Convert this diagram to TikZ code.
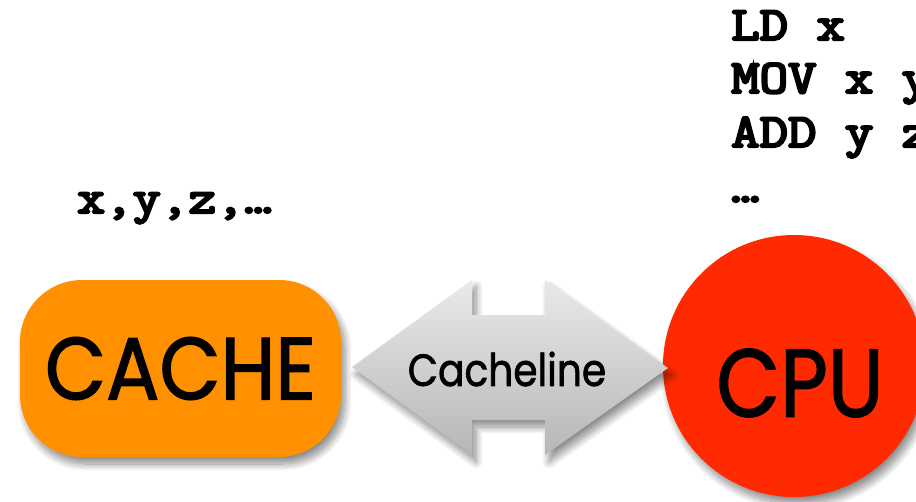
\documentclass[tikz,border=0pt]{standalone}
\usepackage{fontspec}
\newfontfamily\roundfont{Poppins}[FakeBold=1.6]
\newfontfamily\codefont{Latin Modern Mono}[FakeBold=4.5]
\usetikzlibrary{shadows.blur}
\definecolor{cacheorange}{RGB}{255,145,0}
\definecolor{cpured}{RGB}{255,42,0}
\newcommand{\codetext}[1]{\scalebox{1.15}[1]{#1}}
\tikzset{
  softshadow/.style={blur shadow={shadow xshift=4pt, shadow yshift=-7pt,
      shadow blur radius=7pt, shadow blur steps=12, shadow opacity=45}},
  codeline/.style={anchor=base west, inner sep=0pt,
      font=\codefont\fontsize{48}{53}\selectfont},
}
\begin{document}
\begin{tikzpicture}[x=1pt,y=-1pt]
  \useasboundingbox (0,0) rectangle (916,501);
  \clip (0,0) rectangle (916,501);

  % data held in the cache
  \node[codeline, font=\codefont\fontsize{47}{52}\selectfont] (vars) at (77,213) {\codetext{x,y,z,\textellipsis}};

  % instruction stream
  \node[codeline] (i1) at (731,40) {\codetext{LD x}};
  \node[codeline] (i2) at (731,93) {\codetext{MOV x y}};
  \node[codeline] (i3) at (731,147) {\codetext{ADD y z}};
  \node[codeline] (i4) at (731,202) {\codetext{\textellipsis}};

  % the cache
  \node[softshadow, fill=cacheorange, rounded corners=62pt,
        minimum width=321pt, minimum height=177pt, inner sep=0pt,
        font=\roundfont\fontsize{88}{92}\selectfont]
        (cache) at (180.5,368.5) {\scalebox{0.9}[1]{CACHE}};

  % the processor
  \node[softshadow, circle, fill=cpured, minimum size=262pt, inner sep=0pt]
        (cpu) at (794,366) {};
  \node[font=\roundfont\fontsize{96}{100}\selectfont, inner sep=0pt]
        (cpulabel) at (800,383) {\scalebox{0.86}[1]{CPU}};

  % double-headed transfer arrow between them
  \path[softshadow, top color=gray!17, bottom color=gray!57, draw=none]
    (352,367) -- (472,280) -- (472,315) -- (545,315) -- (545,280)
    -- (668,368) -- (545,455) -- (545,420) -- (472,420) -- (472,455) -- cycle;
  \node[font=\roundfont\fontsize{45}{48}\selectfont, inner sep=0pt]
    (line) at (507,369) {\scalebox{0.87}[1]{Cacheline}};
\end{tikzpicture}
\end{document}
